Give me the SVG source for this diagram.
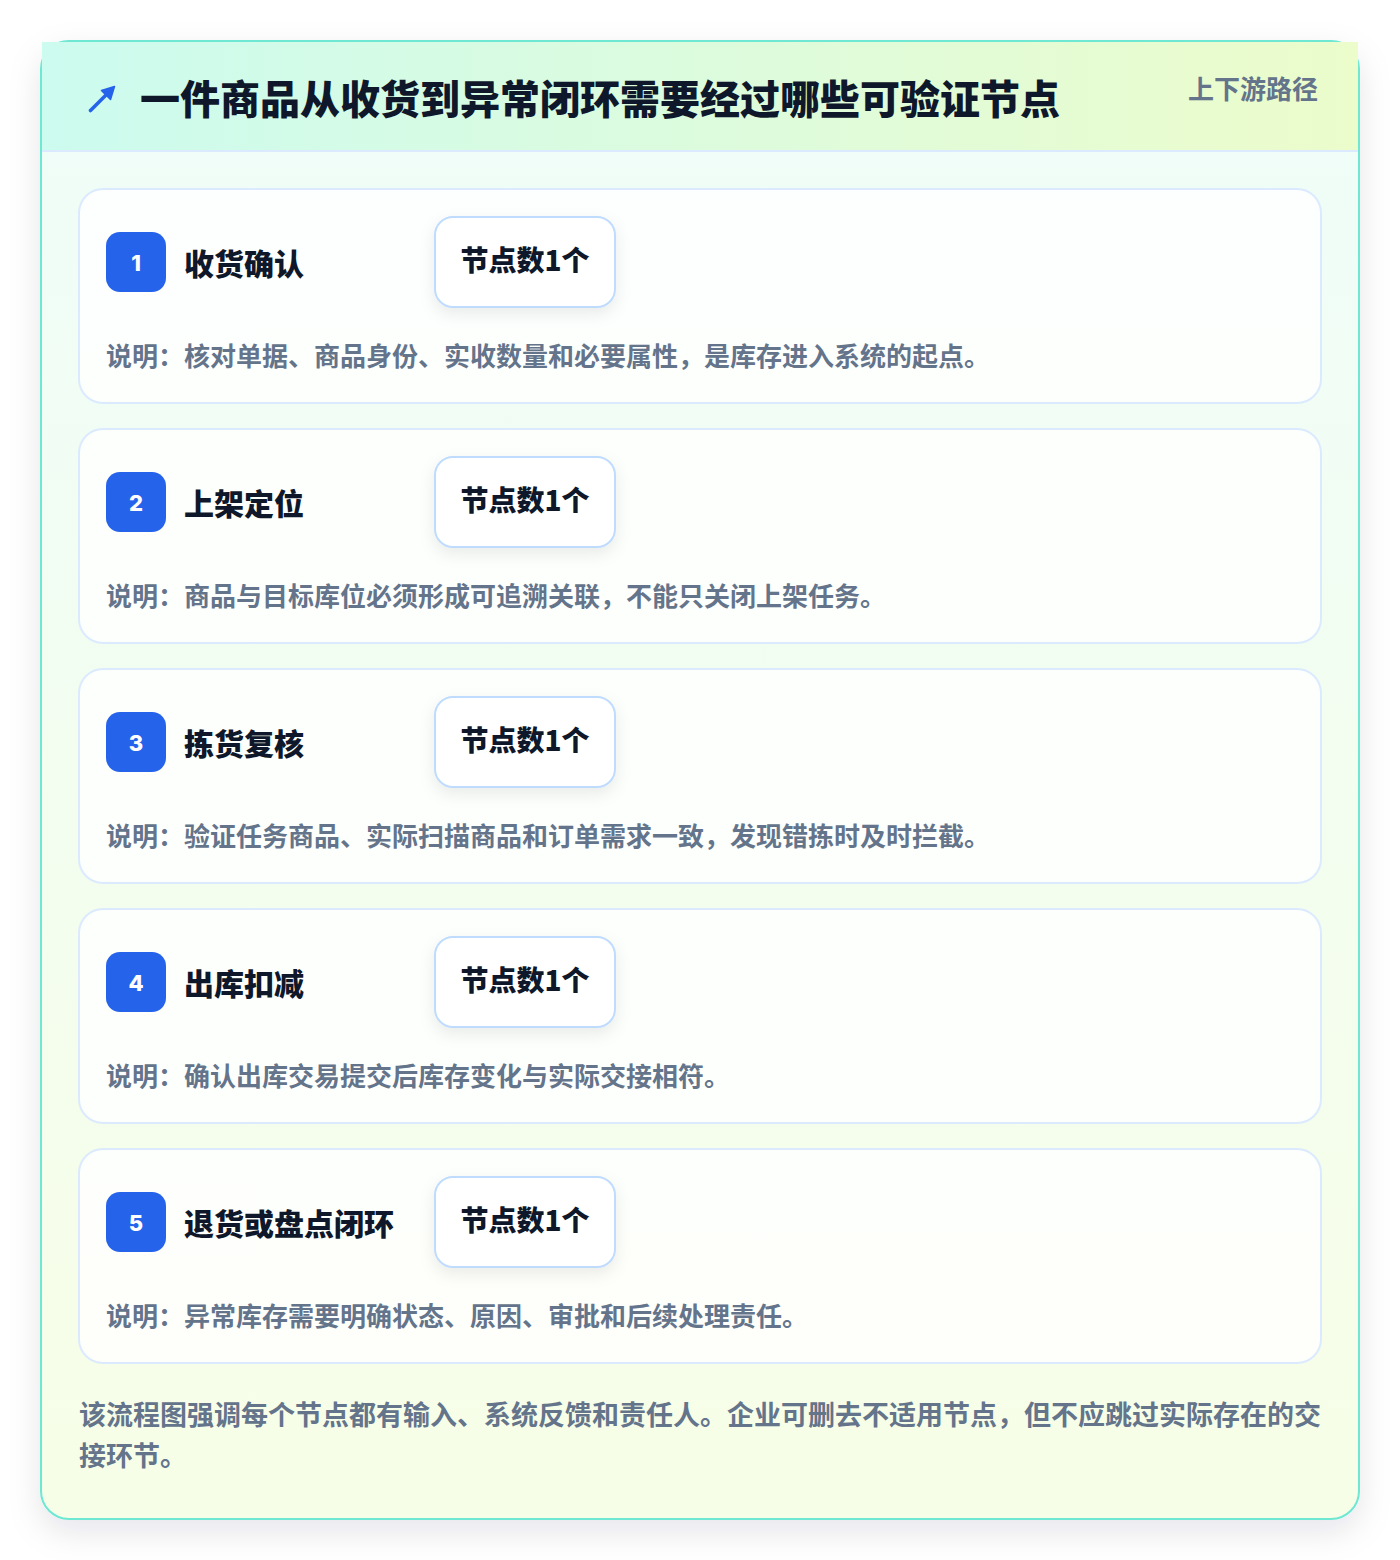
<svg xmlns="http://www.w3.org/2000/svg" width="1400" height="1560" viewBox="0 0 1400 1560">
<defs>
<linearGradient id="bodyGrad" x1="0" y1="0" x2="0" y2="1">
<stop offset="0" stop-color="#effdf9"/>
<stop offset="1" stop-color="#f7fee7"/>
</linearGradient>
<linearGradient id="headGrad" x1="0" y1="0" x2="1" y2="0">
<stop offset="0" stop-color="#ccfbef"/>
<stop offset="1" stop-color="#ecfccb"/>
</linearGradient>
<filter id="outerShadow" x="-10%" y="-10%" width="120%" height="120%">
<feDropShadow dx="0" dy="12" stdDeviation="16" flood-color="#0f172a" flood-opacity="0.10"/>
</filter>
<filter id="pillShadow" x="-30%" y="-40%" width="160%" height="200%">
<feDropShadow dx="0" dy="6" stdDeviation="8" flood-color="#0f172a" flood-opacity="0.08"/>
</filter>
<style>
.card{fill:#ffffff;fill-opacity:0.82;stroke:#dbeafe;stroke-width:2}
.badge{fill:#2563eb}
.num{font-family:Inter,"Liberation Sans",sans-serif;font-weight:800;font-size:22px;fill:#ffffff;text-anchor:middle}
.ttl{font-family:"Noto Sans CJK SC","Noto Sans",sans-serif;font-weight:900;font-size:30px;fill:#0f172a}
.pill{fill:#ffffff;stroke:#bfdbfe;stroke-width:2}
.ptxt{font-family:"Noto Sans CJK SC","Noto Sans",sans-serif;font-weight:900;font-size:28px;fill:#0f172a;text-anchor:middle}
.desc{font-family:"Noto Sans CJK SC","Noto Sans",sans-serif;font-weight:700;font-size:26px;fill:#64748b}
.foot{font-family:"Noto Sans CJK SC","Noto Sans",sans-serif;font-weight:700;font-size:27px;fill:#64748b}
</style>
</defs>
<g id="frame">
<rect x="41" y="41" width="1318" height="1478" rx="28" fill="url(#bodyGrad)" stroke="#6ee7d3" stroke-width="2" filter="url(#outerShadow)"/>
<rect x="42" y="42" width="1316" height="109" fill="url(#headGrad)"/>
<line x1="42" y1="151" x2="1358" y2="151" stroke="#dbeafe" stroke-width="2"/>
<g id="icon" fill="#2563eb" stroke="#2563eb" stroke-linecap="round" stroke-linejoin="round">
<line x1="90.5" y1="110.5" x2="108" y2="93" stroke-width="3.6"/>
<path d="M114.5 86.5 L101.5 90.5 L110.5 99.5 Z" stroke-width="1.5"/>
</g>
<text x="140" y="114" font-family="'Noto Sans CJK SC','Noto Sans',sans-serif" font-weight="900" font-size="40" fill="#0f172a">一件商品从收货到异常闭环需要经过哪些可验证节点</text>
<text x="1318" y="99" text-anchor="end" font-family="'Noto Sans CJK SC','Noto Sans',sans-serif" font-weight="700" font-size="26" fill="#64748b">上下游路径</text>
</g>
<g id="connectors"></g>
<g id="node1">
<rect class="card" x="79" y="189" width="1242" height="214" rx="24"/>
<rect class="badge" x="106" y="232" width="60" height="60" rx="14"/>
<text class="num" x="136" y="271">1</text>
<text class="ttl" x="184" y="275">收货确认</text>
<rect class="pill" x="435" y="217" width="180" height="90" rx="18" filter="url(#pillShadow)"/>
<text class="ptxt" x="525" y="271">节点数1个</text>
<text class="desc" x="106" y="366">说明：核对单据、商品身份、实收数量和必要属性，是库存进入系统的起点。</text>
</g>
<g id="node2">
<rect class="card" x="79" y="429" width="1242" height="214" rx="24"/>
<rect class="badge" x="106" y="472" width="60" height="60" rx="14"/>
<text class="num" x="136" y="511">2</text>
<text class="ttl" x="184" y="515">上架定位</text>
<rect class="pill" x="435" y="457" width="180" height="90" rx="18" filter="url(#pillShadow)"/>
<text class="ptxt" x="525" y="511">节点数1个</text>
<text class="desc" x="106" y="606">说明：商品与目标库位必须形成可追溯关联，不能只关闭上架任务。</text>
</g>
<g id="node3">
<rect class="card" x="79" y="669" width="1242" height="214" rx="24"/>
<rect class="badge" x="106" y="712" width="60" height="60" rx="14"/>
<text class="num" x="136" y="751">3</text>
<text class="ttl" x="184" y="755">拣货复核</text>
<rect class="pill" x="435" y="697" width="180" height="90" rx="18" filter="url(#pillShadow)"/>
<text class="ptxt" x="525" y="751">节点数1个</text>
<text class="desc" x="106" y="846">说明：验证任务商品、实际扫描商品和订单需求一致，发现错拣时及时拦截。</text>
</g>
<g id="node4">
<rect class="card" x="79" y="909" width="1242" height="214" rx="24"/>
<rect class="badge" x="106" y="952" width="60" height="60" rx="14"/>
<text class="num" x="136" y="991">4</text>
<text class="ttl" x="184" y="995">出库扣减</text>
<rect class="pill" x="435" y="937" width="180" height="90" rx="18" filter="url(#pillShadow)"/>
<text class="ptxt" x="525" y="991">节点数1个</text>
<text class="desc" x="106" y="1086">说明：确认出库交易提交后库存变化与实际交接相符。</text>
</g>
<g id="node5">
<rect class="card" x="79" y="1149" width="1242" height="214" rx="24"/>
<rect class="badge" x="106" y="1192" width="60" height="60" rx="14"/>
<text class="num" x="136" y="1231">5</text>
<text class="ttl" x="184" y="1235">退货或盘点闭环</text>
<rect class="pill" x="435" y="1177" width="180" height="90" rx="18" filter="url(#pillShadow)"/>
<text class="ptxt" x="525" y="1231">节点数1个</text>
<text class="desc" x="106" y="1326">说明：异常库存需要明确状态、原因、审批和后续处理责任。</text>
</g>
<g id="footer">
<text class="foot" x="79" y="1425">该流程图强调每个节点都有输入、系统反馈和责任人。企业可删去不适用节点，但不应跳过实际存在的交</text>
<text class="foot" x="79" y="1466">接环节。</text>
</g>
</svg>
